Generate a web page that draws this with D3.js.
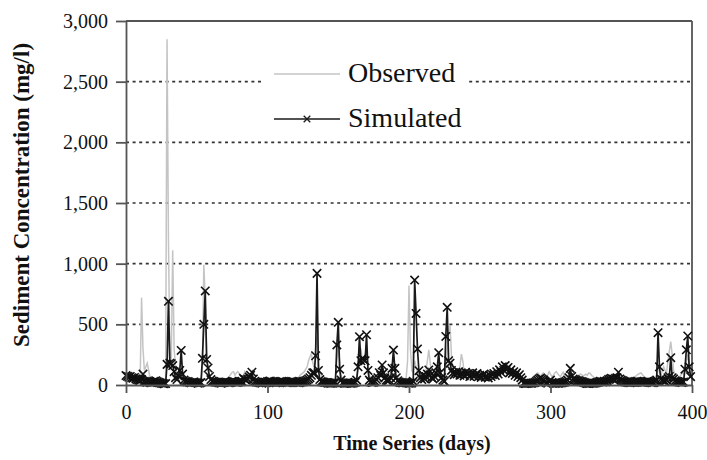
<!DOCTYPE html>
<html>
<head>
<meta charset="utf-8">
<script src="https://cdn.jsdelivr.net/npm/d3@7"></script>
<style>
    body { margin: 0; background: #fff; }
    svg text { font-family: "Liberation Serif", "Times New Roman", Tinos, "DejaVu Serif", serif !important; }
</style>
</head>
<body>
<svg id="chart" width="707" height="460"></svg>
<script>
// daily values, day 0 .. 399
const observed = [
    50, 45, 55, 60, 48, 40, 45, 38, 35, 30, 40, 720, 300, 120, 150, 180, 120, 60, 30, 25,
    20, 18, 15, 12, 10, 10, 12, 15, 60, 2850, 1200, 250, 200, 1110, 300, 150, 80, 50, 40, 60,
    50, 35, 30, 25, 20, 18, 15, 15, 12, 12, 10, 10, 12, 20, 150, 990, 700, 250, 120, 60,
    40, 30, 25, 20, 18, 15, 15, 18, 20, 25, 30, 40, 55, 70, 90, 105, 110, 80, 100, 110,
    95, 70, 60, 80, 110, 90, 60, 40, 30, 25, 20, 18, 15, 15, 12, 15, 18, 20, 15, 12,
    12, 15, 18, 20, 18, 15, 12, 15, 18, 20, 22, 25, 28, 30, 35, 40, 38, 45, 50, 55,
    60, 55, 65, 80, 90, 100, 110, 130, 150, 200, 230, 260, 180, 150, 300, 400, 200, 100, 80, 70,
    60, 50, 40, 35, 40, 45, 40, 35, 60, 200, 315, 200, 80, 40, 30, 25, 20, 20, 18, 20,
    25, 30, 40, 60, 150, 250, 300, 200, 180, 250, 300, 150, 80, 60, 70, 80, 82, 70, 60, 80,
    90, 110, 80, 60, 50, 45, 50, 70, 100, 180, 120, 70, 75, 60, 45, 40, 35, 40, 60, 200,
    820, 300, 120, 100, 200, 150, 100, 80, 60, 50, 45, 60, 120, 200, 290, 180, 100, 70, 60, 80,
    100, 150, 120, 80, 60, 70, 150, 300, 420, 494, 250, 120, 80, 60, 50, 80, 150, 255, 200, 100,
    70, 60, 55, 50, 45, 50, 55, 50, 45, 40, 38, 35, 40, 45, 40, 38, 35, 40, 45, 50,
    55, 60, 65, 70, 80, 90, 100, 110, 105, 100, 90, 85, 80, 75, 70, 65, 60, 55, 50, 45,
    40, 35, 30, 25, 20, 25, 30, 40, 60, 80, 90, 100, 85, 70, 90, 100, 80, 60, 80, 110,
    90, 70, 80, 100, 110, 95, 80, 70, 90, 105, 80, 60, 50, 60, 80, 70, 60, 55, 60, 70,
    80, 90, 85, 75, 82, 90, 80, 100, 95, 80, 70, 60, 50, 45, 40, 45, 50, 55, 50, 45,
    40, 45, 50, 55, 60, 50, 45, 40, 60, 50, 45, 40, 38, 35, 40, 45, 50, 55, 60, 65,
    70, 80, 90, 95, 100, 85, 70, 60, 55, 50, 45, 40, 45, 50, 60, 80, 150, 100, 80, 120,
    150, 120, 100, 200, 280, 357, 250, 120, 80, 60, 50, 60, 80, 100, 90, 120, 200, 250, 150, 80
];
const simulated = [
    78, 72, 65, 70, 60, 55, 62, 50, 45, 40, 38, 45, 90, 30, 25, 22, 28, 20, 18, 24,
    30, 35, 28, 22, 18, 15, 12, 10, 12, 170, 690, 180, 175, 160, 110, 60, 45, 74, 120, 285,
    90, 40, 30, 25, 28, 20, 18, 22, 25, 20, 18, 15, 16, 20, 220, 500, 775, 210, 140, 70,
    45, 32, 28, 25, 22, 20, 18, 15, 18, 20, 22, 25, 20, 18, 22, 30, 28, 25, 20, 22,
    25, 28, 30, 55, 45, 40, 50, 65, 80, 105, 50, 30, 25, 22, 20, 18, 15, 20, 22, 18,
    28, 30, 32, 25, 22, 20, 18, 20, 24, 28, 30, 26, 22, 20, 18, 20, 25, 30, 28, 25,
    22, 20, 18, 20, 24, 28, 30, 35, 40, 50, 60, 80, 100, 100, 241, 920, 120, 45, 28, 25,
    22, 20, 18, 15, 15, 14, 15, 18, 20, 330, 517, 130, 40, 18, 15, 14, 15, 16, 15, 14,
    15, 18, 22, 40, 150, 398, 200, 220, 206, 200, 414, 120, 40, 25, 20, 22, 30, 45, 60, 101,
    80, 165, 100, 60, 40, 35, 40, 60, 137, 288, 137, 60, 35, 25, 20, 18, 18, 20, 18, 16,
    15, 15, 16, 30, 865, 590, 297, 118, 60, 45, 82, 50, 70, 90, 124, 80, 60, 50, 70, 100,
    150, 266, 100, 60, 40, 30, 400, 640, 200, 180, 120, 100, 85, 105, 90, 110, 80, 100, 92, 75,
    105, 88, 95, 70, 90, 100, 72, 85, 95, 68, 80, 62, 78, 90, 65, 75, 58, 80, 70, 85,
    95, 78, 110, 90, 125, 105, 150, 120, 160, 130, 145, 100, 125, 95, 110, 80, 100, 70, 85, 60,
    40, 15, 12, 12, 14, 15, 14, 15, 18, 20, 30, 40, 50, 58, 50, 40, 30, 20, 15, 30,
    40, 20, 15, 14, 15, 14, 15, 16, 18, 20, 25, 30, 40, 60, 137, 70, 50, 45, 40, 35,
    35, 30, 28, 25, 20, 15, 12, 12, 14, 15, 14, 15, 18, 20, 25, 30, 28, 25, 30, 28,
    35, 45, 50, 55, 50, 48, 55, 60, 105, 50, 40, 35, 30, 25, 22, 20, 18, 20, 22, 25,
    28, 30, 28, 25, 22, 20, 22, 25, 28, 30, 25, 20, 18, 20, 30, 40, 431, 150, 50, 40,
    35, 30, 40, 60, 70, 225, 60, 50, 35, 30, 28, 25, 22, 20, 25, 130, 290, 404, 150, 69
];
const days = d3.range(observed.length);
const yTicks = [0, 500, 1000, 1500, 2000, 2500, 3000];
const xTicks = [0, 100, 200, 300, 400];
const seriesNames = ["Observed", "Simulated"];

let svg = d3.select("#chart");
let margin = { top: 21, right: 15, bottom: 75, left: 126 };
let width = 692 - margin.left;
let height = 385 - margin.top;

let xScale = d3.scaleLinear().domain([0, 400]).range([0, width]);
let yScale = d3.scaleLinear().domain([0, 3000]).range([height, 0]);

let g = svg.append("g")
    .attr("transform", "translate(" + margin.left + "," + margin.top + ")");

// dotted gridlines
g.selectAll(".grid")
    .data(yTicks.filter(function (d) { return d > 0 && d < 3000; }))
    .enter().append("line")
    .attr("class", "grid")
    .attr("x1", 0)
    .attr("x2", width)
    .attr("y1", function (d) { return yScale(d); })
    .attr("y2", function (d) { return yScale(d); })
    .attr("stroke", "#333")
    .attr("stroke-width", 1.6)
    .attr("stroke-dasharray", "3,3.6");

// top and right frame
g.append("line")
    .attr("x1", 0).attr("x2", xScale(400))
    .attr("y1", yScale(3000)).attr("y2", yScale(3000))
    .attr("stroke", "#555").attr("stroke-width", 1.8);
g.append("line")
    .attr("x1", xScale(400)).attr("x2", xScale(400))
    .attr("y1", yScale(3000)).attr("y2", yScale(0))
    .attr("stroke", "#555").attr("stroke-width", 1.8);

let line = function (values) {
    return d3.line()
        .x(function (d) { return xScale(d); })
        .y(function (d) { return yScale(values[d]); })(days);
};

g.append("path")
    .attr("d", line(observed))
    .attr("fill", "none")
    .attr("stroke", "#c4c4c4")
    .attr("stroke-width", 1.5);

g.append("path")
    .attr("d", line(simulated))
    .attr("fill", "none")
    .attr("stroke", "#1a1a1a")
    .attr("stroke-width", 1.7);

let marker = d3.symbol().type(d3.symbolX).size(48);
g.selectAll(".mark")
    .data(days)
    .enter().append("path")
    .attr("class", "mark")
    .attr("d", marker)
    .attr("transform", function (d) {
        return "translate(" + xScale(d) + "," + yScale(simulated[d]) + ")";
    })
    .attr("fill", "none")
    .attr("stroke", "#111")
    .attr("stroke-width", 1.6);

// axes
let yAxis = g.append("g")
    .call(d3.axisLeft(yScale).tickValues(yTicks).tickFormat(d3.format(","))
        .tickSize(10).tickSizeOuter(0).tickPadding(8));
let xAxis = g.append("g")
    .attr("transform", "translate(0," + height + ")")
    .call(d3.axisBottom(xScale).tickValues(xTicks)
        .tickSize(8).tickSizeOuter(0).tickPadding(12));

[yAxis, xAxis].forEach(function (ax) {
    ax.attr("font-family", null);
    ax.select(".domain").attr("stroke", "#555").attr("stroke-width", 1.8);
    ax.selectAll(".tick line").attr("stroke", "#555").attr("stroke-width", 1.8);
    ax.selectAll(".tick text")
        .attr("font-size", "20px")
        .attr("fill", "#111");
});

svg.append("text")
    .attr("transform", "translate(29,195) rotate(-90)")
    .attr("text-anchor", "middle")
    .attr("font-size", "23px")
    .attr("font-weight", "bold")
    .attr("fill", "#111")
    .text("Sediment Concentration (mg/l)");

svg.append("text")
    .attr("x", 412)
    .attr("y", 450)
    .attr("text-anchor", "middle")
    .attr("font-size", "20px")
    .attr("font-weight", "bold")
    .attr("fill", "#111")
    .text("Time Series (days)");

// legend
let legend = svg.append("g");
legend.append("rect")
    .attr("x", 264).attr("y", 50)
    .attr("width", 204).attr("height", 86)
    .attr("fill", "#fff");

let legendItems = legend.selectAll(".item")
    .data(seriesNames)
    .enter().append("g")
    .attr("class", "item")
    .attr("transform", function (d, i) { return "translate(274," + (74 + i * 45) + ")"; });

legendItems.append("line")
    .attr("x1", 0).attr("x2", 66)
    .attr("stroke", function (d, i) { return i === 0 ? "#c4c4c4" : "#1a1a1a"; })
    .attr("stroke-width", 1.6);

legendItems.filter(function (d, i) { return i === 1; })
    .append("path")
    .attr("d", d3.symbol().type(d3.symbolX).size(30))
    .attr("transform", "translate(33,0)")
    .attr("fill", "none")
    .attr("stroke", "#1a1a1a")
    .attr("stroke-width", 1.3);

legendItems.append("text")
    .attr("x", 74)
    .attr("y", 8)
    .attr("font-size", "28px")
    .attr("fill", "#111")
    .text(function (d) { return d; });
</script>
</body>
</html>
